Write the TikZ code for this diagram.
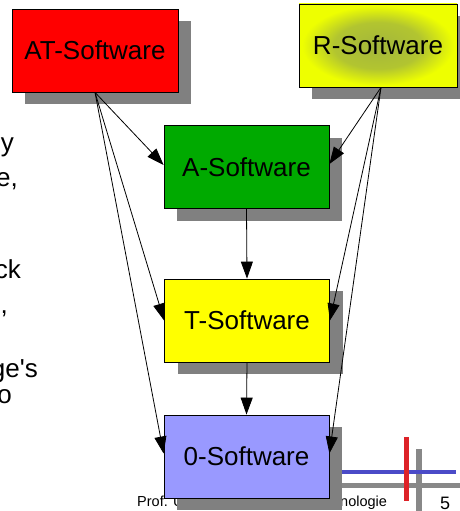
\documentclass[tikz,border=0pt]{standalone}
\usepackage{fontspec}
\setmainfont{Liberation Sans}
\usetikzlibrary{arrows.meta,shadows}
\definecolor{shadowgray}{HTML}{808080}
\definecolor{atred}{HTML}{FF0000}
\definecolor{agreen}{HTML}{00AA00}
\definecolor{tyellow}{HTML}{FFFF00}
\definecolor{zeroblue}{HTML}{9999FF}
\definecolor{rinner}{HTML}{A3B63C}
\definecolor{router}{HTML}{EEFF00}
\definecolor{barblue}{HTML}{4B4BC8}
\definecolor{barred}{HTML}{DD2228}
\definecolor{bargray}{HTML}{888888}
% broad elliptical glow for the R box
\pgfdeclareradialshading{rglow}{\pgfpoint{0bp}{0bp}}{%
  color(0bp)=(rinner); color(14bp)=(rinner!80!router);
  color(24bp)=(router); color(50bp)=(router)}
% straight apostrophe, untouched by the TeX ligature mapping
\newcommand{\straightquote}{\XeTeXglyph\XeTeXcharglyph"27\relax}
\begin{document}
\begin{tikzpicture}[x=1pt,y=-1pt,
  swbox/.style={draw=black, line width=0.8pt, minimum width=165pt,
    minimum height=83pt, inner sep=0pt, font=\fontsize{26}{30}\selectfont,
    drop shadow={shadow xshift=13pt, shadow yshift=-12pt,
      fill=shadowgray, opacity=1}},
  link/.style={line width=0.8pt, -{Triangle[length=17pt,width=12pt]}},
  frag/.style={anchor=base east, inner sep=0pt, font=\fontsize{26}{30}\selectfont},
  foot/.style={anchor=base west, inner sep=0pt, font=\fontsize{14.5}{16}\selectfont},
]
\useasboundingbox (0,0) rectangle (459,511);

% slide body text, cut at the left edge
\node[frag] (f1) at (14,151) {y};
\node[frag] (f2) at (18,186) {e,};
\node[frag] (f3) at (21,278) {ck};
\node[frag] (f4) at (8,313) {,};
\node[frag] (f5) at (38,377) {ge\straightquote s};
\node[frag] (f6) at (12,403) {o};

% footer
\node[foot] (footl) at (137,506) {Prof. U};
\node[foot] (footr) at (340,506) {nologie};
\node[anchor=base west, inner sep=0pt, font=\fontsize{18}{20}\selectfont] (pageno) at (440,509) {5};

% footer bars
\draw[line width=6pt, bargray] (419,449) -- (419,520);
\draw[line width=5pt, bargray] (300,485.5) -- (470,485.5);
\draw[line width=4pt, barblue] (300,472) -- (456,472);
\draw[line width=5pt, barred] (406.5,437) -- (406.5,501);

% software boxes
\node[swbox, fill=atred, minimum width=166pt] (AT) at (95,50.5) {AT-Software};
\node[swbox, minimum width=158pt, shading=rglow] (R) at (378,45.5) {R-Software};
\node[swbox, fill=agreen] (A) at (246.5,167) {A-Software};
\node[swbox, fill=tyellow] (T) at (247,320.5) {T-Software};
\node[swbox, fill=zeroblue] (Z) at (246.5,456.5) {0-Software};

% dependencies
\draw[link] (AT.south) -- ([yshift=2pt]A.west);
\draw[link] (AT.south) -- (T.west);
\draw[link] (AT.south) -- ([yshift=3pt]Z.west);
\coordinate (Rs) at ([xshift=3pt]R.south);
\draw[link] (Rs) -- ([yshift=3pt]A.east);
\draw[link] (Rs) -- (T.east);
\draw[link] (Rs) -- ([yshift=3pt]Z.east);
\draw[link] (A.south) -- (T.north);
\draw[link] (T.south) -- (Z.north);
\end{tikzpicture}
\end{document}
